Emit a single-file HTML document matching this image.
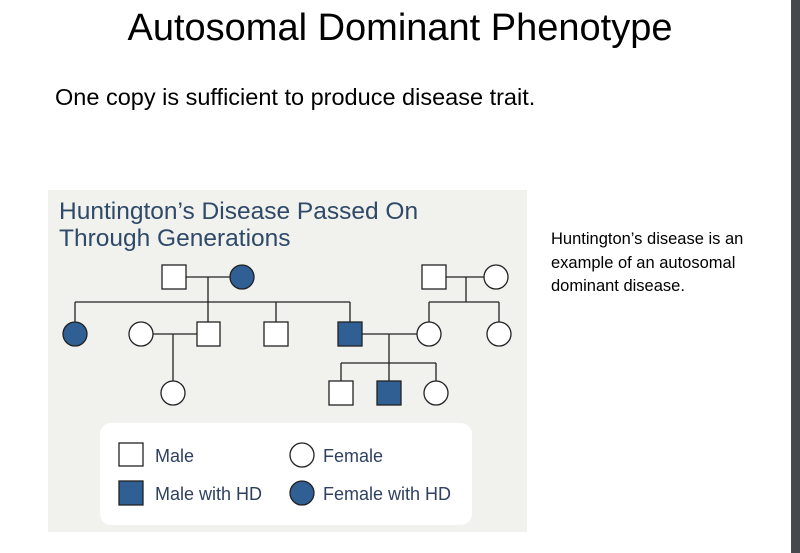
<!DOCTYPE html>
<html><head><meta charset="utf-8"><style>
body{margin:0;width:800px;height:553px;background:#fff;position:relative;overflow:hidden;font-family:"Liberation Sans",sans-serif}
.t{position:absolute;white-space:nowrap;color:#000}
</style></head><body>
<div style="position:absolute;right:0;top:0;width:9px;height:553px;background:#46484c"></div>
<div class="t" style="left:0;width:800px;text-align:center;top:7px;font-size:38px">Autosomal Dominant Phenotype</div>
<div class="t" style="left:55px;top:84px;font-size:23.5px">One copy is sufficient to produce disease trait.</div>
<div class="t" style="left:551px;top:228px;font-size:16.5px;line-height:23.5px">Huntington’s disease is an<br>example of an autosomal<br>dominant disease.</div>
<svg style="position:absolute;left:0;top:0" width="800" height="553">
<rect x="48" y="190" width="479" height="342" fill="#f1f1ee"/>
<text x="59" y="219" font-size="24.5" fill="#2f4a68" font-family="Liberation Sans">Huntington’s Disease Passed On</text>
<text x="59" y="246" font-size="24.5" fill="#2f4a68" font-family="Liberation Sans">Through Generations</text>
<g stroke="#222" stroke-width="1.3" fill="none">
<path d="M186 277H230M208 277V302M75 302H350M75 302V322M208 302V322M276 302V322M350 302V322"/>
<path d="M446 277H484M466 277V302M429 302H499M429 302V322M499 302V322"/>
<path d="M153 334H197M173 334V381"/>
<path d="M362 334H417M389 334V363M341 363H436M341 363V381M389 363V381M436 363V381"/>
</g>
<g stroke="#222" stroke-width="1.3">
<rect x="162" y="265" width="24" height="24" fill="#fff"/>
<circle cx="242" cy="277" r="12" fill="#2f5f93"/>
<rect x="422" y="265" width="24" height="24" fill="#fff"/>
<circle cx="496" cy="277" r="12" fill="#fff"/>
<circle cx="75" cy="334" r="12" fill="#2f5f93"/>
<circle cx="141" cy="334" r="12" fill="#fff"/>
<rect x="197" y="322" width="23" height="24" fill="#fff"/>
<rect x="264" y="322" width="24" height="24" fill="#fff"/>
<rect x="338" y="322" width="24" height="24" fill="#2f5f93"/>
<circle cx="429" cy="334" r="12" fill="#fff"/>
<circle cx="499" cy="334" r="12" fill="#fff"/>
<circle cx="173" cy="393" r="12" fill="#fff"/>
<rect x="329" y="381" width="24" height="24" fill="#fff"/>
<rect x="377" y="381" width="24" height="24" fill="#2f5f93"/>
<circle cx="436" cy="393" r="12" fill="#fff"/>
</g>
<rect x="100" y="423" width="372" height="102" rx="11" fill="#fff"/>
<g stroke="#222" stroke-width="1.3">
<rect x="119" y="443" width="24" height="23" fill="#fff"/>
<rect x="119" y="481" width="24" height="24" fill="#2f5f93"/>
<circle cx="302" cy="455" r="12" fill="#fff"/>
<circle cx="302" cy="493" r="12" fill="#2f5f93"/>
</g>
<g font-size="18" fill="#2f4060" font-family="Liberation Sans">
<text x="155" y="462">Male</text>
<text x="155" y="500">Male with HD</text>
<text x="323" y="462">Female</text>
<text x="323" y="500">Female with HD</text>
</g>
</svg>
</body></html>
